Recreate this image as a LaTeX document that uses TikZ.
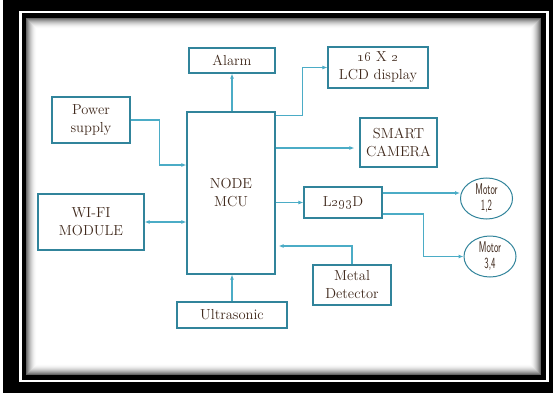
\documentclass[tikz,border=0pt]{standalone}
\usepackage{tikz}
\usetikzlibrary{shapes.geometric, arrows.meta, positioning, calc}
\definecolor{nmTeal}{HTML}{31849B}
\definecolor{nmLine}{HTML}{4BACC6}
\definecolor{nmText}{HTML}{40291C}
\tikzset{
  nmbox/.style={rectangle, draw=nmTeal, line width=1.2pt, fill=white,
                text=nmText, font=\fontsize{14.5}{18}\selectfont, align=center,
                inner sep=0pt},
  nmflow/.style={-{Latex[length=5pt,width=4pt]}, line width=1.1pt, color=nmLine},
}
\begin{document}
\begin{tikzpicture}[x=1pt, y=-1pt,
  motor/.style={ellipse, draw=nmTeal, line width=1pt, fill=white, text=nmText,
                minimum width=52pt, minimum height=41pt, inner sep=0pt, align=center,
                font=\sffamily\fontsize{15.5}{16}\selectfont}]
  \useasboundingbox (0,0) rectangle (553,393);
  % frame
  \fill[white] (0,0) rectangle (553,393);
  \fill[black] (3,0) rectangle (553,393);
  \draw[white, line width=2.6pt] (20.5,12) rectangle (547.5,381);
  \foreach \i in {0,...,11}{
    \pgfmathsetmacro\shade{max(0,60*(1-\i/11)^2)}
    \fill[black!\shade] (26+\i,18+\i) rectangle (541-\i,375-\i);
  }
  \fill[white] (38,30) rectangle (529,363);
  % blocks
  \node[nmbox, minimum width=88pt, minimum height=162pt] (mcu) at (231,193) {NODE\\MCU};
  \node[nmbox, minimum width=86pt, minimum height=25pt] (alarm) at (232,60.5) {Alarm};
  \node[nmbox, minimum width=100pt, minimum height=41pt] (lcd) at (378,67.5)
    {\oldstylenums{16} X \oldstylenums{2}\\LCD display};
  \node[nmbox, minimum width=78pt, minimum height=46pt] (power) at (91,120) {Power\\supply};
  \node[nmbox, minimum width=77pt, minimum height=49pt] (cam) at (398.5,142.5) {SMART\\CAMERA};
  \node[nmbox, minimum width=106pt, minimum height=56pt] (wifi) at (91,222) {WI-FI\\MODULE};
  \node[nmbox, minimum width=78pt, minimum height=31pt] (l293) at (343,202.5) {L\oldstylenums{293}D};
  \node[motor] (m12) at (486.5,198.5) {\scalebox{0.6}[1]{Motor}\\\scalebox{0.6}[1]{1,2}};
  \node[motor] (m34) at (490,256.5) {\scalebox{0.6}[1]{Motor}\\\scalebox{0.6}[1]{3,4}};
  \node[nmbox, minimum width=78pt, minimum height=40pt] (metal) at (352,285) {Metal\\Detector};
  \node[nmbox, minimum width=110pt, minimum height=26pt] (ultra) at (232,315) {Ultrasonic};
  \coordinate (camin) at ([yshift=-5.5pt,xshift=-5pt]cam.west);
  \coordinate (metalin) at ([yshift=-53pt,xshift=3pt]mcu.east);
  % links
  \draw[nmflow] (mcu.north -| alarm.south) -- (alarm.south);
  \draw[nmflow] ([yshift=-4pt]mcu.north east) -- ++(27,0) |- (lcd.west);
  \draw[nmflow] (power.east) -- ++(29,0) |- ([yshift=28pt]mcu.west);
  \draw[nmflow] (mcu.east |- camin) -- (camin);
  \draw[nmflow, {Latex[length=5pt,width=4pt]}-{Latex[length=5pt,width=4pt]}]
    (wifi.east) -- (wifi.east -| mcu.west);
  \draw[nmflow] (mcu.east |- l293.west) -- (l293.west);
  \draw[nmflow] ([yshift=9.5pt]l293.east) -- ([yshift=9.5pt]l293.east -| m12.west);
  \draw[nmflow] ([yshift=-11.5pt]l293.east) -- ++(41,0) |- (m34.west);
  \draw[nmflow] (metal.north) |- (metalin);
  \draw[nmflow] (ultra.north) -- (ultra.north |- mcu.south);
\end{tikzpicture}
\end{document}
